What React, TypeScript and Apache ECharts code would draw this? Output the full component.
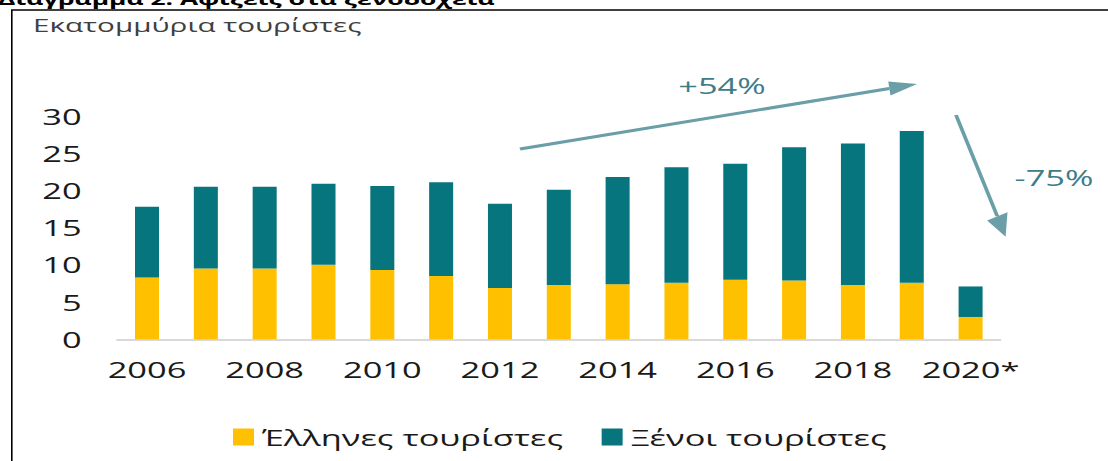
import React, { useEffect, useRef } from "react";
import * as echarts from "echarts";

const years = ["2006", "2007", "2008", "2009", "2010", "2011", "2012", "2013", "2014", "2015", "2016", "2017", "2018", "2019", "2020*"];
const greekTourists = [8.3, 9.5, 9.5, 10.0, 9.3, 8.5, 6.9, 7.3, 7.4, 7.6, 8.0, 7.9, 7.3, 7.6, 3.0];
const foreignTourists = [9.5, 11.0, 11.0, 10.9, 11.3, 12.6, 11.3, 12.8, 14.4, 15.5, 15.6, 17.9, 19.0, 20.4, 4.1];
const seriesNames = ["Έλληνες τουρίστες", "Ξένοι τουρίστες"];
const yTicks = { min: 0, max: 30, interval: 5 };
const titleText = "Διάγραμμα 2: Αφίξεις στα ξενοδοχεία";
const unitText = "Εκατομμύρια τουρίστες";
const growthLabel = "+54%";
const dropLabel = "-75%";

const FULL_W = 1108;
const CHART_W = 692;
const H = 461;
const S = FULL_W / CHART_W;
const FONT = "'Open Sans', 'Noto Sans', sans-serif";
const ARROW = "#6a9fa8";
const ARROW_TEXT = "#3f7c89";

// convert original-picture x to chart space
const cx = (x: number) => x / S;

function arrowHead(x1: number, y1: number, x2: number, y2: number, len: number, half: number) {
  const dx = x2 - x1;
  const dy = y2 - y1;
  const l = Math.hypot(dx, dy);
  const ux = dx / l;
  const uy = dy / l;
  const bx = x2 - ux * len;
  const by = y2 - uy * len;
  const nx = -uy;
  const ny = ux;
  return {
    base: [cx(bx), by],
    points: [
      [cx(x2), y2],
      [cx(bx + nx * half), by + ny * half],
      [cx(bx - nx * half), by - ny * half],
    ],
  };
}

export default function App() {
  const ref = useRef<HTMLDivElement>(null);

  useEffect(() => {
    if (!ref.current) return;
    const chart = echarts.init(ref.current, undefined, { renderer: "svg" });

    const a1 = arrowHead(520, 149, 917, 84, 28, 7);
    const a2 = arrowHead(956, 115, 1005.6, 236.7, 22, 11);

    chart.setOption({
      animation: false,
      backgroundColor: "#ffffff",
      textStyle: { fontFamily: FONT },
      grid: {
        left: cx(117.6),
        right: CHART_W - cx(1000),
        top: 116,
        bottom: H - 339.3,
        outerBoundsMode: "none",
      },
      legend: {
        left: cx(225),
        top: 421,
        itemWidth: cx(21),
        itemHeight: 17,
        itemGap: 24,
        icon: "rect",
        textStyle: { fontSize: 21.5, color: "#1a1a1a", fontFamily: FONT },
        data: seriesNames,
      },
      xAxis: {
        type: "category",
        data: years,
        axisLine: { show: true, lineStyle: { color: "#d9d9d9", width: 2 } },
        axisTick: { show: false },
        axisLabel: { interval: 1, fontSize: 21.5, color: "#1a1a1a", margin: 19, fontFamily: FONT },
      },
      yAxis: {
        type: "value",
        min: yTicks.min,
        max: yTicks.max,
        interval: yTicks.interval,
        splitLine: { show: false },
        axisLine: { show: false },
        axisTick: { show: false },
        axisLabel: { fontSize: 21.5, color: "#1a1a1a", margin: 22.5, fontFamily: FONT },
      },
      series: [
        {
          name: seriesNames[0],
          type: "bar",
          stack: "total",
          barWidth: 15,
          itemStyle: { color: "#FFC000" },
          data: greekTourists,
        },
        {
          name: seriesNames[1],
          type: "bar",
          stack: "total",
          barWidth: 15,
          itemStyle: { color: "#07757D" },
          data: foreignTourists,
        },
      ],
      graphic: [
        {
          type: "text",
          x: cx(-2),
          y: -1.5,
          style: {
            text: titleText,
            fontSize: 16.5,
            fontWeight: "bold",
            fill: "#000000",
            fontFamily: FONT,
            verticalAlign: "middle",
            align: "left",
          },
        },
        {
          type: "line",
          shape: { x1: cx(11), y1: 10, x2: CHART_W, y2: 10 },
          style: { stroke: "#000000", lineWidth: 1.6 },
        },
        {
          type: "line",
          shape: { x1: cx(11.8), y1: 10, x2: cx(11.8), y2: H },
          style: { stroke: "#000000", lineWidth: 1.6 / S },
        },
        {
          type: "text",
          x: cx(33),
          y: 25,
          style: {
            text: unitText,
            fontSize: 18.5,
            fill: "#404040",
            fontFamily: FONT,
            verticalAlign: "middle",
            align: "left",
          },
        },
        {
          type: "line",
          shape: { x1: cx(520), y1: 149, x2: a1.base[0], y2: a1.base[1] },
          style: { stroke: ARROW, lineWidth: 3 },
        },
        { type: "polygon", shape: { points: a1.points }, style: { fill: ARROW } },
        {
          type: "line",
          shape: { x1: cx(956), y1: 115, x2: a2.base[0], y2: a2.base[1] },
          style: { stroke: ARROW, lineWidth: 2.4 },
        },
        { type: "polygon", shape: { points: a2.points }, style: { fill: ARROW } },
        {
          type: "text",
          x: cx(722),
          y: 85,
          style: {
            text: growthLabel,
            fontSize: 21.5,
            fill: ARROW_TEXT,
            fontFamily: FONT,
            verticalAlign: "middle",
            align: "center",
          },
        },
        {
          type: "text",
          x: cx(1054),
          y: 177,
          style: {
            text: dropLabel,
            fontSize: 21.5,
            fill: ARROW_TEXT,
            fontFamily: FONT,
            verticalAlign: "middle",
            align: "center",
          },
        },
      ],
    });

    return () => chart.dispose();
  }, []);

  return (
    <div
      style={{
        position: "absolute",
        left: 0,
        top: 0,
        width: FULL_W,
        height: H,
        overflow: "hidden",
        background: "#ffffff",
      }}
    >
      <div
        ref={ref}
        style={{
          width: CHART_W,
          height: H,
          transform: `scaleX(${S})`,
          transformOrigin: "0 0",
        }}
      />
    </div>
  );
}
